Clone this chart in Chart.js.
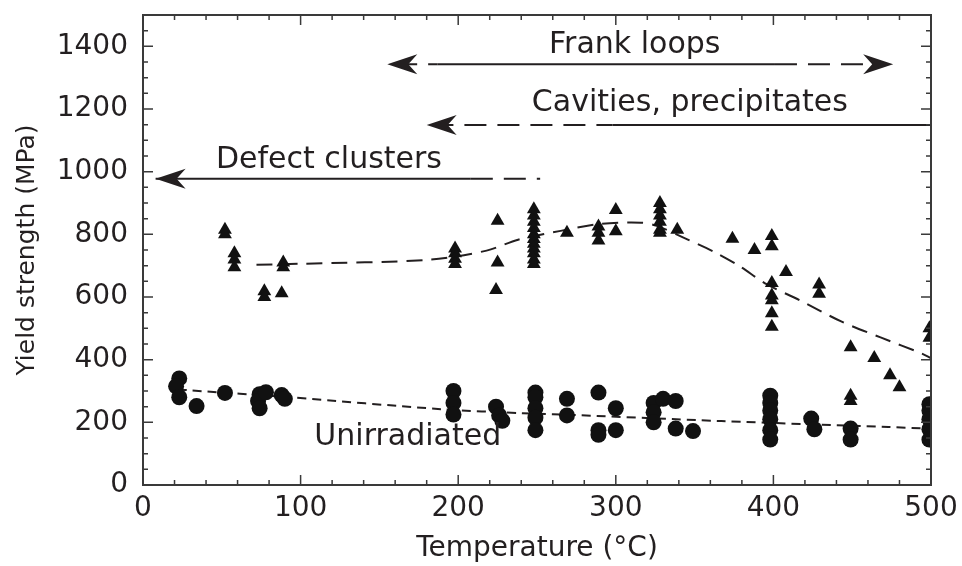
<!DOCTYPE html>
<html>
<head>
<meta charset="utf-8">
<script src="https://cdn.jsdelivr.net/npm/chart.js@4"></script>
<style>
  html, body { margin: 0; padding: 0; background: #fff; }
</style>
</head>
<body>
<canvas id="yieldChart" width="962" height="566"></canvas>
<script>
// Irradiated samples (triangles)
const irrTemp = [52, 52, 58, 58, 58, 77, 77, 88, 89, 89,
  198, 198, 198, 198, 225, 225, 224,
  248, 248, 248, 248, 248, 248, 248, 248, 248, 248, 248,
  269, 289, 289, 289, 300, 300,
  328, 328, 328, 328, 328, 328, 339, 374, 388, 399, 399, 408,
  399, 399, 399, 399, 399, 429, 429, 449, 449, 449, 464, 474, 480, 499, 499];
const irrYield = [815, 800, 740, 720, 695, 618, 600, 612, 710, 695,
  755, 740, 722, 705, 843, 710, 622,
  880, 860, 840, 820, 800, 785, 770, 755, 740, 720, 705,
  805, 825, 805, 780, 878, 810,
  900, 880, 860, 840, 815, 805, 815, 786, 750, 795, 762, 680,
  645, 605, 590, 548, 505, 640, 610, 440, 285, 268, 405, 350, 312, 500, 470];

// Unirradiated samples (circles)
const unTemp = [23, 21, 23, 34, 52, 74, 73, 74, 78, 88, 90,
  197, 197, 197, 224, 226, 228,
  249, 249, 249, 249, 249, 269, 269, 289, 289, 289, 300, 300,
  324, 324, 324, 330, 338, 338, 349,
  398, 398, 398, 398, 398, 398, 424, 426, 449, 449,
  499, 499, 499, 499, 499];
const unYield = [340, 315, 280, 252, 294, 290, 268, 245, 296, 287, 275,
  300, 262, 225, 250, 222, 205,
  295, 280, 245, 215, 175, 275, 222, 295, 175, 160, 245, 175,
  262, 232, 200, 275, 268, 180, 172,
  285, 262, 238, 210, 175, 145, 212, 178, 180, 145,
  258, 238, 210, 178, 145];

// Dashed trend lines
const irrFitTemp = [72, 100, 182, 218, 238, 265, 290, 316, 326, 345, 362, 378, 396, 417, 443, 468, 494, 500];
const irrFitYield = [703, 706, 719, 748, 783, 811, 833, 837, 827, 785, 745, 700, 640, 589, 522, 471, 420, 405];
const unFitTemp = [22, 30, 93, 189, 241, 260, 367, 473, 500];
const unFitYield = [305, 302, 280, 242, 229, 226, 204, 185, 180];

// Mechanism arrows (temperature ranges, level in MPa)
const arrowNames = ['Frank loops', 'Cavities, precipitates', 'Defect clusters'];
const arrowLevels = [1343, 1149, 977];
const arrowSolid = [[187, 401], [298, 500], [8, 208]];
const arrowDashed = [[[160, 187], [401, 470]], [[183, 298]], [[208, 252]]];
const arrowLeftTip = [155, 180, 8];
const arrowRightTip = [476, null, null];
// label anchors (centre temperature, baseline yield)
const labelTemp = [312, 347, 118];
const labelYield = [1378, 1193, 1012];
const noteText = 'Unirradiated';
const noteTemp = 168;
const noteYield = 127;

const ink = '#231f20';
const font = '"DejaVu Sans", Verdana, sans-serif';

function pts(xs, ys) {
  return xs.map((t, i) => ({ x: t, y: ys[i] }));
}

function drawHead(ctx, tx, ty, dir) {
  const L = 30, W = 10;
  ctx.beginPath();
  ctx.moveTo(tx, ty);
  ctx.lineTo(tx - dir * L, ty - W);
  ctx.lineTo(tx - dir * L * 0.7, ty);
  ctx.lineTo(tx - dir * L, ty + W);
  ctx.closePath();
  ctx.fill();
}

// keep the plot box fixed: no extra room for overhanging tick labels
function fixBox(scale) {
  scale.paddingTop = 0;
  scale.paddingBottom = 0;
  scale.paddingLeft = 0;
  scale.paddingRight = 0;
}

const annotations = {
  id: 'annotations',
  afterDatasetsDraw(chart) {
    const { ctx, scales: { x, y } } = chart;
    ctx.save();
    ctx.strokeStyle = ink;
    ctx.fillStyle = ink;
    ctx.lineWidth = 2;
    ctx.font = '30px ' + font;
    ctx.textAlign = 'center';
    ctx.textBaseline = 'alphabetic';
    arrowLevels.forEach((lvl, i) => {
      const py = y.getPixelForValue(lvl);
      ctx.setLineDash([]);
      ctx.beginPath();
      ctx.moveTo(x.getPixelForValue(arrowSolid[i][0]), py);
      ctx.lineTo(x.getPixelForValue(arrowSolid[i][1]), py);
      ctx.stroke();
      ctx.setLineDash([22, 11]);
      arrowDashed[i].forEach(seg => {
        ctx.beginPath();
        ctx.moveTo(x.getPixelForValue(seg[0]), py);
        ctx.lineTo(x.getPixelForValue(seg[1]), py);
        ctx.stroke();
      });
      if (arrowLeftTip[i] !== null) drawHead(ctx, x.getPixelForValue(arrowLeftTip[i]), py, -1);
      if (arrowRightTip[i] !== null) drawHead(ctx, x.getPixelForValue(arrowRightTip[i]), py, 1);
      ctx.fillText(arrowNames[i], x.getPixelForValue(labelTemp[i]), y.getPixelForValue(labelYield[i]));
    });
    ctx.fillText(noteText, x.getPixelForValue(noteTemp), y.getPixelForValue(noteYield));
    ctx.restore();
  },
  afterDraw(chart) {
    // frame with inward ticks on all four sides
    const { ctx, chartArea: a, scales: { x, y } } = chart;
    ctx.save();
    ctx.strokeStyle = '#3a3a3a';
    ctx.lineWidth = 2;
    ctx.strokeRect(a.left, a.top, a.right - a.left, a.bottom - a.top);
    ctx.lineWidth = 1.5;
    ctx.beginPath();
    for (let t = 0; t <= 500; t += 20) {
      const px = x.getPixelForValue(t);
      const len = t % 100 === 0 ? 10 : 5;
      ctx.moveTo(px, a.bottom); ctx.lineTo(px, a.bottom - len);
      ctx.moveTo(px, a.top); ctx.lineTo(px, a.top + len);
    }
    for (let v = 0; v <= 1450; v += 50) {
      const py = y.getPixelForValue(v);
      const len = v % 200 === 0 ? 10 : 5;
      ctx.moveTo(a.left, py); ctx.lineTo(a.left + len, py);
      ctx.moveTo(a.right, py); ctx.lineTo(a.right - len, py);
    }
    ctx.stroke();
    ctx.restore();
  }
};

const ctx = document.getElementById('yieldChart').getContext('2d');
const yieldChart = new Chart(ctx, {
  type: 'scatter',
  data: {
    datasets: [
      {
        label: 'Irradiated',
        data: pts(irrTemp, irrYield),
        pointStyle: 'triangle',
        pointRadius: 8,
        backgroundColor: '#111',
        borderColor: '#111',
        borderWidth: 0
      },
      {
        label: 'Unirradiated',
        data: pts(unTemp, unYield),
        pointStyle: 'circle',
        pointRadius: 8,
        backgroundColor: '#111',
        borderColor: '#111',
        borderWidth: 0
      },
      {
        label: 'Irradiated trend',
        data: pts(irrFitTemp, irrFitYield),
        showLine: true,
        pointRadius: 0,
        borderColor: ink,
        borderWidth: 2,
        borderDash: [16, 9],
        tension: 0.3
      },
      {
        label: 'Unirradiated trend',
        data: pts(unFitTemp, unFitYield),
        showLine: true,
        pointRadius: 0,
        borderColor: ink,
        borderWidth: 2,
        borderDash: [9, 6],
        tension: 0.3
      }
    ]
  },
  options: {
    responsive: false,
    devicePixelRatio: 1,
    animation: false,
    layout: { padding: { top: 15, right: 31, left: 0, bottom: 0 } },
    plugins: { legend: { display: false }, tooltip: { enabled: false } },
    scales: {
      x: {
        type: 'linear',
        min: 0,
        max: 500,
        grid: { display: false, drawTicks: false },
        border: { display: false },
        ticks: { stepSize: 100, autoSkip: false, color: ink, font: { size: 28, family: font }, padding: 7, maxRotation: 0 },
        title: { display: true, text: 'Temperature (°C)', color: ink, font: { size: 28, family: font }, padding: { bottom: 0 } },
        afterFit(scale) { scale.height = 81; fixBox(scale); }
      },
      y: {
        min: 0,
        max: 1500,
        grid: { display: false, drawTicks: false },
        border: { display: false },
        ticks: {
          stepSize: 200,
          autoSkip: false,
          includeBounds: false,
          color: ink,
          font: { size: 28, family: font },
          padding: 15,
          callback: v => (v % 200 === 0 && v <= 1400 ? v : '')
        },
        title: { display: true, text: 'Yield strength (MPa)', color: ink, font: { size: 25, family: font }, padding: { top: 12 } },
        afterFit(scale) { scale.width = 143; fixBox(scale); }
      }
    }
  },
  plugins: [annotations]
});
</script>
</body>
</html>
